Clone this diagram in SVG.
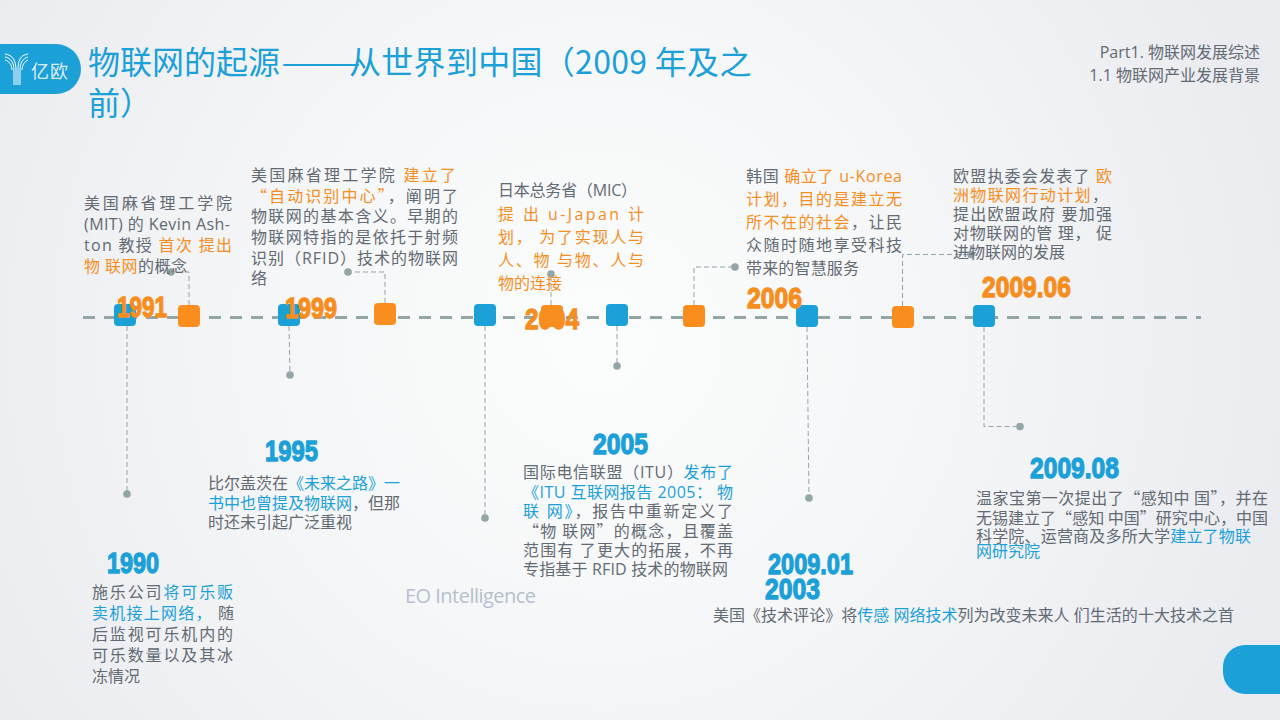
<svg xmlns="http://www.w3.org/2000/svg" width="1280" height="720" viewBox="0 0 1280 720">
<defs>
<radialGradient id="bg" gradientUnits="userSpaceOnUse" cx="600" cy="340" r="720">
<stop offset="0" stop-color="#fbfcfc"/><stop offset="0.45" stop-color="#f5f6f7"/><stop offset="1" stop-color="#e9ebef"/>
</radialGradient>
<marker id="dot" markerUnits="userSpaceOnUse" viewBox="-4 -4 8 8" markerWidth="8" markerHeight="8"><circle r="3.8" fill="#92a5a7"/></marker>
</defs>
<style>
text{font-family:"Open Sans","Noto Sans CJK SC",sans-serif;}
.t{font-size:16px;fill:#626a73;}
.o{fill:#f68e1f;}
.b{fill:#1ba0d7;}
.q{font-family:"Noto Sans CJK SC",sans-serif;}
.y{font-family:"Liberation Sans Narrow","Liberation Sans",sans-serif;font-weight:700;font-size:30px;stroke-width:1.3px;}
.yo{fill:#f68e1f;stroke:#f68e1f;}
.yb{fill:#1ba0d7;stroke:#1ba0d7;}
.so{fill:#f98d1e;}
.sb{fill:#1ba0d7;}
.main{fill:none;stroke:#92a5a7;stroke-width:3;stroke-dasharray:12 9;}
.c{fill:none;stroke:#92a5a7;stroke-width:1;stroke-dasharray:5 3;marker-end:url(#dot);}
.h{font-size:16px;fill:#626a73;text-anchor:end;}
</style>
<rect width="1280" height="720" fill="url(#bg)"/>
<g id="logo">
<rect x="-30" y="44" width="111" height="50" rx="25" fill="#1ba0d7"/>
<g fill="none" stroke="#fff" stroke-width="1">
<path d="M5 54C13 55 16 61 16 70V85M5 57C11 58 14 63 14 70V85M5 60C9 61 12 65 12 70M28 54C20 55 18 61 18 70V85M28 57C23 58 20 63 20 70V85M28 60C25 61 22 65 22 70"/>
</g>
<text x="31" y="78" font-size="18" fill="#fff" fill-opacity=".85" letter-spacing="1">亿欧</text>
</g>
<g id="title">
<text class="q" y="74" font-size="32" fill="#1ba0d7"><tspan x="88">物联网的起源</tspan><tspan x="281" textLength="80" lengthAdjust="spacingAndGlyphs">——</tspan><tspan x="349" letter-spacing=".3">从世界到中国（2009 年及之</tspan></text>
<text class="q" x="88" y="115" font-size="32" fill="#1ba0d7">前）</text>
</g>
<g id="section">
<text class="h" x="1260" y="58">Part1. 物联网发展综述</text>
<text class="h" x="1260" y="81">1.1 物联网产业发展背景</text>
</g>
<g id="corner"><rect x="1223" y="645" width="90" height="49" rx="22" fill="#1ba0d7"/></g>
<g id="watermark"><text x="405" y="603" font-size="20" fill="#b5bfcf" textLength="131">EO Intelligence</text></g>
<g id="connectors">
<line class="main" x1="83" y1="317.5" x2="1201" y2="317.5" style="marker-end:none"/>
<path class="c" d="M127 326V494"/>
<path class="c" d="M189 305V272H171"/>
<path class="c" d="M289 326L290 375"/>
<path class="c" d="M385 303V272H348"/>
<path class="c" d="M485 326V518"/>
<path class="c" d="M551 305V274"/>
<path class="c" d="M617 326V366"/>
<path class="c" d="M694 305V267H735"/>
<path class="c" d="M807 327L809 498"/>
<path class="c" d="M902.5 306V254.5H971"/>
<path class="c" d="M984 327V426.5H1020"/>
</g>
<g id="node-1990">
<rect class="sb" x="114" y="304" width="22" height="22" rx="4"/>
<text class="y yb" x="107" y="573" textLength="52" lengthAdjust="spacingAndGlyphs">1990</text>
<text class="t" x="92" y="598" textLength="141">施乐公司<tspan class="b">将可乐贩</tspan></text>
<text class="t" x="92" y="619" textLength="142"><tspan class="b">卖机接上网络，</tspan> 随</text>
<text class="t" x="92" y="640" textLength="141">后监视可乐机内的</text>
<text class="t" x="92" y="661" textLength="141">可乐数量以及其冰</text>
<text class="t" x="92" y="682">冻情况</text>
</g>
<g id="node-1991">
<rect class="so" x="178" y="305" width="22" height="22" rx="4"/>
<text class="y yo" x="117" y="317" textLength="50" lengthAdjust="spacingAndGlyphs">1991</text>
<text class="t" x="84" y="209" textLength="148">美国麻省理工学院</text>
<text class="t" x="84" y="230" textLength="146">(MIT) 的 Kevin Ash-</text>
<text class="t" x="84" y="251" textLength="148">ton 教授 <tspan class="o">首次 提出</tspan></text>
<text class="t" x="84" y="272" textLength="103"><tspan class="o">物 联网</tspan>的概念</text>
</g>
<g id="node-1995">
<rect class="sb" x="278" y="304" width="22" height="22" rx="4"/>
<text class="y yb" x="265" y="461" textLength="53" lengthAdjust="spacingAndGlyphs">1995</text>
<text class="t" x="208" y="489" textLength="192">比尔盖茨在<tspan class="b">《未来之路》一</tspan></text>
<text class="t" x="208" y="509" textLength="192"><tspan class="b">书中也曾提及物联网</tspan>，但那</text>
<text class="t" x="208" y="528" textLength="144">时还未引起广泛重视</text>
</g>
<g id="node-1999">
<rect class="so" x="374" y="303" width="22" height="22" rx="4"/>
<text class="y yo" x="285" y="318" textLength="52" lengthAdjust="spacingAndGlyphs">1999</text>
<text class="t" x="251" y="181" textLength="205">美国麻省理工学院 <tspan class="o">建立了</tspan></text>
<text class="t q" x="251" y="202" textLength="207"><tspan class="o">“自动识别中心”</tspan>，阐明了</text>
<text class="t" x="251" y="222" textLength="207">物联网的基本含义。早期的</text>
<text class="t" x="251" y="243" textLength="207">物联网特指的是依托于射频</text>
<text class="t" x="251" y="264" textLength="207">识别（RFID）技术的物联网</text>
<text class="t" x="251" y="284">络</text>
</g>
<g id="node-2003">
<rect class="sb" x="796" y="305" width="22" height="22" rx="4"/>
<text class="y yb" x="765" y="599" textLength="55" lengthAdjust="spacingAndGlyphs">2003</text>
<text class="t" x="713" y="621" textLength="521">美国《技术评论》将<tspan class="b">传感 网络技术</tspan>列为改变未来人 们生活的十大技术之首</text>
</g>
<g id="node-2004">
<rect class="so" x="541" y="305" width="22" height="22" rx="4"/>
<text class="y yo" x="525" y="329" textLength="54" lengthAdjust="spacingAndGlyphs">2004</text>
<text class="t" x="498" y="196" textLength="139">日本总务省（MIC）</text>
<text class="t o" x="498" y="220" textLength="146">提 出 u-Japan 计</text>
<text class="t o" x="498" y="243" textLength="146">划， 为了实现人与</text>
<text class="t o" x="498" y="266" textLength="146">人、物 与物、人与</text>
<text class="t o" x="498" y="289" textLength="64">物的连接</text>
</g>
<g id="node-2005">
<rect class="sb" x="606" y="304" width="22" height="22" rx="4"/>
<text class="y yb" x="593" y="454" textLength="55" lengthAdjust="spacingAndGlyphs">2005</text>
<text class="t" x="523" y="478" textLength="210">国际电信联盟（ITU）<tspan class="b">发布了</tspan></text>
<text class="t b" x="523" y="498" textLength="210">《ITU 互联网报告 2005： 物</text>
<text class="t" x="523" y="517" textLength="210"><tspan class="b">联 网》</tspan>，报告中重新定义了</text>
<text class="t q" x="523" y="537" textLength="210">“物 联网”的概念，且覆盖</text>
<text class="t" x="523" y="556" textLength="210">范围有 了更大的拓展，不再</text>
<text class="t" x="523" y="575" textLength="205">专指基于 RFID 技术的物联网</text>
</g>
<g id="node-2006">
<rect class="so" x="683" y="305" width="22" height="22" rx="4"/>
<text class="y yo" x="747" y="308" textLength="55" lengthAdjust="spacingAndGlyphs">2006</text>
<text class="t" x="746" y="182" textLength="156">韩国 <tspan class="o">确立了 u-Korea</tspan></text>
<text class="t o" x="746" y="205" textLength="156">计划，目的是建立无</text>
<text class="t" x="746" y="228" textLength="156"><tspan class="o">所不在的社会</tspan>，让民</text>
<text class="t" x="746" y="251" textLength="156">众随时随地享受科技</text>
<text class="t" x="746" y="274" textLength="113">带来的智慧服务</text>
</g>
<g id="node-2009-01">
<text class="y yb" x="768" y="574" textLength="85" lengthAdjust="spacingAndGlyphs">2009.01</text>
</g>
<g id="node-2009-06">
<rect class="so" x="892" y="306" width="22" height="22" rx="4"/>
<text class="y yo" x="982" y="297" textLength="89" lengthAdjust="spacingAndGlyphs">2009.06</text>
<text class="t" x="953" y="182" textLength="159">欧盟执委会发表了 <tspan class="o">欧</tspan></text>
<text class="t" x="953" y="201" textLength="155"><tspan class="o">洲物联网行动计划</tspan>，</text>
<text class="t" x="953" y="220" textLength="159">提出欧盟政府 要加强</text>
<text class="t" x="953" y="239" textLength="159">对物联网的管 理， 促</text>
<text class="t" x="953" y="258" textLength="112">进物联网的发展</text>
</g>
<g id="node-2009-08">
<rect class="sb" x="973" y="305" width="22" height="22" rx="4"/>
<text class="y yb" x="1030" y="478" textLength="89" lengthAdjust="spacingAndGlyphs">2009.08</text>
<text class="t q" x="976" y="504" textLength="292">温家宝第一次提出了“感知中 国”，并在</text>
<text class="t q" x="976" y="524" textLength="292">无锡建立了“感知 中国”研究中心，中国</text>
<text class="t" x="976" y="542" textLength="275">科学院、运营商及多所大学<tspan class="b">建立了物联</tspan></text>
<text class="t b" x="976" y="557" textLength="64">网研究院</text>
</g>
<g id="unlabelled-node">
<rect class="sb" x="474" y="304" width="22" height="22" rx="4"/>
</g>
</svg>
